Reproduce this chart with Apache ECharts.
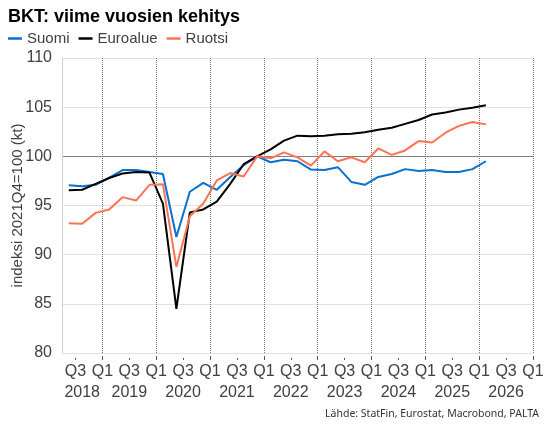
<!DOCTYPE html>
<html>
<head>
<meta charset="utf-8">
<script src="https://cdn.jsdelivr.net/npm/echarts@6/dist/echarts.min.js"></script>
<style>
html,body{margin:0;padding:0;background:#fff;}
#chart{width:550px;height:435px;}
</style>
</head>
<body>
<div id="chart"></div>
<script>
// ---- data ----
const quarters = ['2018Q2','2018Q3','2018Q4',
  '2019Q1','2019Q2','2019Q3','2019Q4',
  '2020Q1','2020Q2','2020Q3','2020Q4',
  '2021Q1','2021Q2','2021Q3','2021Q4',
  '2022Q1','2022Q2','2022Q3','2022Q4',
  '2023Q1','2023Q2','2023Q3','2023Q4',
  '2024Q1','2024Q2','2024Q3','2024Q4',
  '2025Q1','2025Q2','2025Q3','2025Q4',
  '2026Q1','2026Q2','2026Q3','2026Q4'];
const axisEnd = '2027Q1';
const years = ['2018','2019','2020','2021','2022','2023','2024','2025','2026'];
const seriesNames = ['Suomi','Euroalue','Ruotsi'];
const suomi = [97.05,96.95,97.1,97.8,98.6,98.6,98.4,98.2,91.8,96.4,97.3,96.6,97.9,99.1,100,
  99.4,99.65,99.5,98.65,98.6,98.9,97.4,97.1,97.9,98.2,98.7,98.5,98.6,98.4,98.4,98.7,99.5];
const euroalue = [96.55,96.6,97.2,97.8,98.25,98.4,98.35,95.2,84.5,94.3,94.6,95.4,97.2,99.2,100,
  100.7,101.6,102.1,102.05,102.1,102.25,102.3,102.45,102.7,102.9,103.3,103.7,104.25,104.45,104.75,104.95,105.2];
const ruotsi = [93.2,93.15,94.25,94.6,95.85,95.5,97.1,97.15,88.75,93.9,95.2,97.55,98.3,97.95,100,
  99.8,100.4,99.9,99.05,100.5,99.5,99.9,99.4,100.8,100.15,100.6,101.55,101.4,102.4,103.1,103.5,103.25];
const yMin = 80, yMax = 110, yStep = 5, refLevel = 100;
const titleText = 'BKT: viime vuosien kehitys';
const sourceText = 'Lähde: StatFin, Eurostat, Macrobond, PALTA';
const yName = 'indeksi 2021Q4=100 (kt)';

// ---- derived ----
const bounds = quarters.concat([axisEnd]);
const yearCenters = years.map(y => {
  const idx = quarters.map((q,i)=>q.slice(0,4)===y?i:-1).filter(i=>i>=0);
  return (idx[0] + idx[idx.length-1] + 1) / 2;
});
const yLevels = [];
for (let v = yMin; v <= yMax; v += yStep) yLevels.push(v);
const light = '#e2e2e2', dark = '#7f7f7f';
const FONT = 'Liberation Sans';
const txt = '#404040';

const chart = echarts.init(document.getElementById('chart'), null, {renderer:'canvas'});
const lineSeries = (name, data, color, z) => ({
  name, type:'line', data, xAxisIndex:3, yAxisIndex:0,
  symbol:'none', smooth:false, z,
  lineStyle:{color, width:2}, itemStyle:{color}
});
chart.setOption({
  animation:false,
  title:[
    {text:titleText, left:8, top:8, padding:0,
     textStyle:{fontFamily:FONT, fontSize:18, fontWeight:'bold', color:'#000'}},
    {text:sourceText, right:11, top:409, padding:0,
     textStyle:{fontFamily:'Noto Sans', fontSize:10.5, fontWeight:'normal', color:'#333'}}
  ],
  legend:{left:8, top:31, padding:0, icon:'rect', itemWidth:14, itemHeight:2.5, itemGap:9,
    data:seriesNames, textStyle:{fontFamily:FONT, fontSize:15, color:txt}},
  grid:{left:62, right:17, top:58, bottom:82, containLabel:false, outerBoundsMode:'none'},
  xAxis:[
    {type:'category', position:'bottom', data:bounds, boundaryGap:false, offset:3,
     axisLine:{show:false},
     axisTick:{show:true, interval:(i)=>i%4===3, length:4, lineStyle:{color:'#555'}},
     axisLabel:{interval:(i)=>i%2===1, formatter:(v)=>v.slice(4), fontFamily:FONT, fontSize:16, color:txt, margin:8},
     splitLine:{show:true, interval:(i)=>i%4===3, lineStyle:{type:'dotted', color:'#777', width:1}}},
    {type:'category', position:'bottom', data:bounds, boundaryGap:false, offset:5,
     axisLine:{show:false},
     axisTick:{show:true, interval:(i)=>i%4===1, length:2, lineStyle:{color:'#555'}},
     axisLabel:{show:false}, splitLine:{show:false}},
    {type:'value', position:'bottom', min:0, max:quarters.length, interval:0.5, offset:3,
     axisLine:{show:false}, axisTick:{show:false}, splitLine:{show:false},
     axisLabel:{margin:29, fontFamily:FONT, fontSize:16, color:txt,
       formatter:(v)=>{const k=yearCenters.indexOf(v); return k>=0?years[k]:'';}}},
    {type:'category', position:'bottom', data:quarters, boundaryGap:true, show:false}
  ],
  yAxis:[{type:'value', min:yMin, max:yMax, interval:yStep,
    name:yName, nameLocation:'middle', nameGap:37, nameMoveOverlap:false,
    nameTextStyle:{fontFamily:FONT, fontSize:15, color:txt},
    axisLine:{show:true, lineStyle:{color:'#d0d0d0'}},
    axisTick:{show:false},
    axisLabel:{fontFamily:FONT, fontSize:16, color:txt, margin:10},
    splitLine:{show:true, lineStyle:{width:1, color:yLevels.map(v=>v===refLevel?dark:light)}}
  }],
  series:[
    lineSeries(seriesNames[0], suomi, '#0a70d0', 3),
    lineSeries(seriesNames[1], euroalue, '#000000', 4),
    lineSeries(seriesNames[2], ruotsi, '#ff7352', 5)
  ]
});
</script>
</body>
</html>
